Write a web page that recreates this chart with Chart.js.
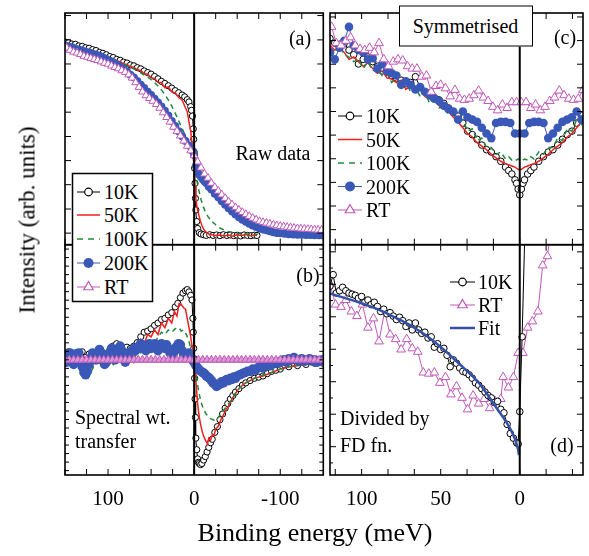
<!DOCTYPE html>
<html><head><meta charset="utf-8">
<script src="https://cdn.jsdelivr.net/npm/chart.js@4/dist/chart.umd.min.js"></script>
<style>
html,body{margin:0;padding:0;background:#fff;}
#wrap{position:relative;width:589px;height:556px;overflow:hidden;font-family:"Liberation Serif","Tinos","DejaVu Serif","Noto Serif",serif;color:#000;}
canvas{position:absolute;left:0;top:0;}
svg{position:absolute;left:0;top:0;}
.t{position:absolute;white-space:nowrap;line-height:1;font-size:20px;}
.c{transform:translate(-50%,-50%);}
.l{transform:translate(0,-50%);}
</style></head>
<body><div id="wrap">
<canvas id="ca" width="589" height="556"></canvas>
<canvas id="cb" width="589" height="556"></canvas>
<canvas id="cc" width="589" height="556"></canvas>
<canvas id="cd" width="589" height="556"></canvas>
<svg id="lg" width="589" height="556"></svg>
<div id="txt"></div>
</div>
<script>
// ---------- series names ----------
const seriesNames = ['10K','50K','100K','200K','RT'];

// ---------- Panel (a): raw data ----------
const E_a_10K = [150,146,142,138,134,130,126,122,118,114,110,106,102,98,94,90,86,82,78,74,70,66,62,58,54,50,46,42,38,34,30,26,22,18,14,11,8,6,4,3,2,1,0.5,0,-0.5,-1,-1.5,-2,-3,-4,-6,-8,-11,-14,-18,-22,-26,-30,-34,-38,-42,-46,-50,-54,-58,-62,-66,-70,-73];
const I_a_10K = [87.5,87.2,86.6,86.5,85.8,85.6,85.0,84.8,84.2,83.8,83.0,82.6,82.0,81.2,80.8,80.0,79.6,78.8,78.4,77.6,77.2,76.4,75.9,75.0,74.3,73.6,72.6,71.6,70.5,69.6,68.6,67.6,66.5,65.6,64.6,63.8,62.6,61.6,59.6,58,55.5,50,45.5,40,33,26.5,20,15,10,7,5.2,4.6,4.3,4.0,4.3,4.0,4.2,3.9,4.3,4.0,4.2,3.9,4.1,3.8,4.2,4.0,3.9,4.1,4.0];
const E_a_50K = [150,146,142,138,134,130,126,122,118,114,110,106,102,98,94,90,86,82,78,74,70,66,62,58,54,50,46,42,38,34,30,26,22,18,14,10,8,6,4,3,2,1,0,-1,-2,-3,-4,-5,-7,-9,-11,-14,-17,-20,-25,-30,-35,-40,-45,-50,-55,-60,-65,-70,-73];
const I_a_50K = [87,86.8,86.2,86,85.3,85,84.5,84.2,83.6,83.2,82.4,82,81.4,80.6,80.2,79.4,79,78,77.8,76.8,76.6,75.5,75.2,73.8,73.6,72,71.8,70,70,67.8,68,66,65.5,63.5,62.5,59,57.5,53,49,45.5,42,37.5,32,25,20,17,15,13.5,10.5,8.3,6.7,5.3,4.6,4.3,4.0,4.2,3.8,4.2,3.7,4.3,4.0,4.4,3.9,4.2,4.0];
const E_a_100K = [150,146,142,138,134,130,126,122,118,114,110,106,102,98,94,90,86,82,78,74,70,66,62,58,54,50,46,42,38,34,30,26,22,18,14,10,7,4,2,0,-2,-4,-6,-8,-10,-13,-16,-20,-25,-30,-35,-40,-45,-50,-55,-60,-65,-70,-74];
const I_a_100K = [87,86.5,86,85.7,85.2,84.8,84.3,84,83.4,83,82.3,81.8,81.2,80.5,80,79.2,78.7,77.8,77.3,76.4,75.9,75,74.2,73.2,72.4,71.2,70,68.5,66.8,64.8,62.5,59.8,56.8,53.5,50.2,46.8,44,41,38.5,35,30,26,22.5,19.5,17,14.2,12.2,10.2,8.6,7.2,6.3,5.6,5.2,4.9,4.7,4.6,4.6,4.5,4.5];
const E_a_200K = [150,146,142,138,134,130,126,122,118,114,110,106,102,98,94,90,86,82,78,74,70,66,62,58,54,50,46,42,38,34,30,26,22,18,14,10,6,2,0,-2,-4,-6,-8,-10,-12,-14,-17,-20,-24,-28,-32,-36,-40,-44,-48,-52,-56,-60,-64,-68,-72,-76,-80,-84,-88,-92,-96,-100,-105,-110,-115,-120,-125,-130,-135,-140,-145,-150];
const I_a_200K = [86,85.5,85.2,84.5,84.2,83.8,83.2,83,82.4,82,81.6,80.8,80.2,79.4,78.6,77.8,76.8,75.8,74.8,73.4,72.2,70.6,69,67.6,66,64.6,63,61.4,59.6,57.8,55.8,53.4,51.2,49,46.8,44.8,42.8,40.5,38.8,34,31.5,30.2,29.2,28.2,27.4,26.6,25,23.8,22,20.5,18.8,17.2,15.7,14.3,13,11.8,10.8,9.9,9,8.3,7.6,7,6.6,6.2,5.8,5.4,5.1,4.9,4.7,4.5,4.4,4.3,4.3,4.2,4.2,4.1,4.1,4];
const E_a_RT = [148,144,140,136,132,128,124,120,116,112,108,104,100,96,92,88,84,80,76,72,68,64,60,56,52,48,44,40,36,32,28,24,20,16,12,8,4,0,-4,-8,-12,-16,-20,-24,-28,-32,-36,-40,-44,-48,-52,-56,-60,-64,-68,-72,-76,-80,-84,-88,-92,-96,-100,-104,-108,-112,-116,-120,-124,-128,-132,-136,-140,-144,-148];
const I_a_RT = [85,84,83.2,82.8,82.2,81.4,81,80.5,80,79.6,79,78.4,78,77.2,76.6,76,75.2,74.5,73.4,72,70,68,66,64.4,63.2,62,60.6,59,57,55,53,50.8,49,47,44.8,42.6,40.6,38.5,35.8,33.2,30.6,28.8,26.6,24.8,23.2,21.6,20.1,18.6,17.3,16.1,15,14,13.1,12.3,11.5,10.8,10.1,9.7,9.4,9.0,8.6,8.3,8.0,7.8,7.6,7.4,7.2,7.0,6.9,6.8,6.7,6.6,6.5,6.4,6.3];

// ---------- Panel (b): spectral weight transfer ----------
const E_b_10K = [150,146,142,138,134,130,126,122,118,114,110,106,102,98,94,90,86,82,78,74,70,66,62,58,54,50,46,42,38,34,30,26,22,19,16,13,10,8,6,4,2.5,1.5,1,0.5,0,-0.5,-1,-1.5,-2,-3,-4,-5,-6,-7.5,-9,-11,-13,-15,-17,-19,-21,-24,-27,-30,-33,-36,-39,-42,-45,-48,-52,-56,-60,-65,-70,-75,-80,-85,-90,-95,-100,-110,-120,-130,-140,-150];
const V_b_10K = [2,3.5,1.5,3,2,3.5,1,2.5,1.5,3,2,3,2.5,4,6,7,5.5,4.5,5.5,5,6,7.5,10,12,12.5,13.5,15,16,17.5,18,19.5,20.5,23,24.5,27,29,30,30.5,29.5,28,26,18,12,5,0.5,-8,-17,-25,-34,-39,-43,-44.5,-45,-45.5,-45,-43.5,-42,-40,-38,-36,-34.5,-31.5,-29,-26,-23.5,-21,-19,-17,-15.5,-14,-12.5,-11,-10,-9,-8,-7.5,-7,-6,-5,-4.5,-4,-3,-2.5,-2,-1.5,-1.5];
const E_b_50K = [150,146,142,138,134,130,126,122,118,114,110,106,102,98,94,90,86,82,78,74,70,66,62,58,54,50,46,42,38,34,30,26,23,20,17.5,15,12,10,8,6,4,2,0,-1,-2,-3,-4,-6,-8,-10,-12,-14,-15.5,-17,-19,-21,-23,-25,-28,-31,-34,-37,-40,-44,-48,-52,-56,-60,-65,-70,-75,-80,-90,-100,-110,-120,-130,-140,-150];
const V_b_50K = [1,3,0,2.5,-1,2,0.5,-2,1,2,0,3,0.5,2,4,2,5,3,1,5,2,6,9,7,11,10,13,11,16,14,18,16,21,19,24.5,24,22.5,22,18,14,10,5,0,-5,-9,-14,-19,-25,-29,-32,-34,-35.5,-36.5,-34,-35,-32.5,-33,-30,-29,-26,-24,-21.5,-20,-17,-14.5,-12.5,-11,-10,-9,-8,-7.5,-7,-5.5,-4,-3,-2.5,-2,-1.5,-1.5];
const E_b_100K = [150,146,142,138,134,130,126,122,118,114,110,106,102,98,94,90,86,82,78,74,70,66,62,58,54,50,46,42,38,34,30,26,22,18,15,12,9,6,4,2,0,-2,-4,-6,-8,-10,-13,-16,-19,-22,-25,-28,-31,-34,-37,-40,-44,-48,-52,-56,-60,-65,-70,-75,-80,-90,-100,-110,-120,-130,-140,-150];
const V_b_100K = [-1,1,-3,0,-2,-5,-3,-1,-4,0,-2,1,-3,0,-2,2,-1,1,0,3,-1,4,3,6,5,8,7,10,12,11,13,12,13.5,14,12.5,13,11,8,5,2,-1,-6,-11,-15,-18.5,-20.5,-23,-24.5,-25.5,-26,-26.5,-25,-23.5,-22,-20.5,-19,-17,-14.5,-12.5,-11,-10,-9,-8,-7.5,-6.5,-5.5,-4,-3,-2.5,-2,-1.5,-1.5];
const E_b_200K = [150,148,146,144,142,140,138,136,134,132,130,128,126,124,122,120,118,116,114,112,110,108,106,104,102,100,98,96,94,92,90,88,86,84,82,80,78,76,74,72,70,68,66,64,62,60,58,56,54,52,50,48,46,44,42,40,38,36,34,32,30,28,26,24,22,20,18,16,14,12,10,8,6,4,2,0,-2,-4,-6,-8,-10,-12,-14,-16,-18,-20,-22,-24,-26,-28,-30,-32,-34,-36,-38,-40,-42,-44,-46,-48,-50,-53,-56,-59,-62,-65,-68,-71,-74,-77,-80,-83,-86,-89,-92,-95,-98,-101,-104,-107,-110,-113,-116,-119,-122,-125,-128,-131,-134,-137,-140,-143,-146,-149];
const V_b_200K = [0,-1,1,3,1,-2,0,2,3,0,-3,-5.5,-6.5,-5,-2,1,3,2,0,3,4.5,3,0,-2,-1,1,3,5,3,0,2,5,6,4,1,-1,1,3,2,4,5,4,5,6,7,6,5,4,6,7,5,6,7,5,4,6,7,6,5,6.5,5,3,2,3,5,6,7,6.5,4,2,1,2,3,1,0,-1,-2.5,-3.5,-4.5,-5,-5.5,-6,-7,-7.5,-8,-9,-10,-10.5,-11.5,-11,-10.5,-9.5,-10,-9,-8.5,-9,-8,-8.5,-7.5,-8,-7,-6.5,-6,-5.5,-5,-5,-4,-4.5,-3.5,-3,-3.5,-2.5,-2,-2.5,-1.5,-1,-1.5,-0.5,0,-1,0.5,0,1,0,-0.5,0.5,-0.5,0,0.5,-0.5,0,-1,-0.5,0];
const E_b_RT = [150,145,140,135,130,125,120,115,110,105,100,95,90,85,80,75,70,65,60,55,50,45,40,35,30,25,20,15,10,5,0,-5,-10,-15,-20,-25,-30,-35,-40,-45,-50,-55,-60,-65,-70,-75,-80,-85,-90,-95,-100,-105,-110,-115,-120,-125,-130,-135,-140,-145,-150];
const V_b_RT = [0,0,0,0,0,0,0,0,0,0,0,0,0,0,0,0,0,0,0,0,0,0,0,0,0,0,0,0,0,0,0,0,0,0,0,0,0,0,0,0,0,0,0,0,0,0,0,0,0,0,0,0,0,0,0,0,0,0,0,0,0];

// ---------- Panel (c): symmetrised ----------
const E_c_10K = [120,117,114,111,108,105,102,99,96,93,90,87,84,81,78,75,72,69,66,63,60,57,54,51,48,45,42,39,36,33,30,27,24,21,18,15,12,9,7,5,3,2,1,0,-1,-2,-3,-5,-7,-9,-12,-15,-18,-21,-24,-27,-30,-33,-36,-39,-40];
const I_c_10K = [89,87,86.5,87,84,82,78,80,81,79,77,75,74.5,73,72,71,69.5,70,72.5,68,66,65.5,63.5,62.5,61,59,57,55.5,52.5,49,47.5,45.5,43,41,40,38,36,33.5,32,30.5,28,26.5,24,21.5,24,26.5,28,30.5,32,33.5,36,38,40,41,43,45.5,47.5,49,52.5,55.5,56];
const I_c_50K = [86,84,85,83,80,81,79,77,78.5,76,74,75,72,71.5,70,71,67,68.5,66,67,64,63,62,60,58.5,57.5,55,53,50.5,48,46.5,44,42.5,41,39,37.5,36,35,34.5,34,33.5,33,32.5,32.5,32.5,33,33.5,34,34.5,35,36,37.5,39,41,42.5,44,46.5,48,50.5,53,54];
const I_c_100K = [85,83,86,82,81,79,80,76,79,75,76,73,74,70,72,69,70,66,68,64,66,61,64,59,60,56,57,52,54,49,50,45,46,42,42,39,40,37,38,36.5,37,36.5,37,36.5,37,36.5,37,36.5,38,37,40,39,42,42,46,45,50,49,54,52,55];
const E_c_200K = [120,117,114,111,108,105,102,99,96,93,90,87,84,81,78,75,72,69,66,63,60,57,54,51,48,45,42,39,36,33,30,27,24,21,18,15,12,9,6,3,0,-3,-6,-9,-12,-15,-18,-21,-24,-27,-30,-33,-36,-39];
const I_c_200K = [83,80,85,88,94,86,84,83,80,80.5,76,78,75,74,73,69,70.5,69,67,68,66,64.5,63,62,60,58.5,57.5,54,57.5,55,54,53,50.5,48,46,52.5,53,53,52.5,48,48,48,52.5,53,53,52.5,46,48,50.5,53,54,55,57.5,54];
const E_c_RT = [119,116,113,110,107,104,101,98,95,92,89,86,83,80,77,74,71,68,65,62,59,56,53,50,47,44,41,38,35,32,29,26,23,20,17,14,11,8,5,2,-1,-4,-7,-10,-13,-16,-19,-22,-25,-28,-31,-34,-37,-40];
const I_c_RT = [94,87,86,88,89.5,86,84.5,84,85,83,87,80,77,79,80,79.5,77,76,76,72.5,73,66,68.5,69,67.5,64,66.8,63,62.5,63,64.5,66.5,63.5,62,59.5,58,60.5,59,61.5,61.5,61.5,61.5,59,60.5,58,59.5,62,63.5,66.5,64.5,63,62.5,63,66.8];

// ---------- Panel (d): divided by Fermi-Dirac ----------
const E_d_10K = [120,118,116,114,112,110,108,106,104,102,100,98,96,94,92,90,88,86,84,82,80,78,76,74,72,70,68,66,64,62,60,58,56,54,52,50,48,46,44,42,40,38,36,34,32,30,28,26,24,22,20,18,16,14,12,10,8,6,4,2,1,0,-1.5,-3.2];
const I_d_10K = [82,87,79,80,81.5,80,79,78.5,78,76.8,77.5,75,76,74,75,73.2,71,72,70,70.5,69,67.5,68.5,67,64.5,66,63,66,63,61.5,62,59.5,60,55.5,57,54.5,55,52,47,50,48.5,46.5,45,44.5,43.5,42,40,39,37.5,36,34.5,33.5,31.5,32,28.5,27,22,18,16,14,13.5,27.5,60,105];
const E_d_RT = [120,116.5,113,110,106.5,103,99.5,96,92.5,89,85.5,82,78.5,75,71.5,68,64.5,61,57.5,54,50.5,47,43.5,40,36.5,33,29.5,26,22.5,19,15.5,12,10.5,7.2,4,1,-2,-5,-8,-11.5,-14.5,-17.5,-20];
const I_d_RT = [83,74,73,76,71,69,74,64,68,58,71,61,59,54.5,59,55,53.5,44.5,44,44.5,40,42.5,35,38.5,33.5,28.5,34.5,31,33,29,32,33,42.5,38,42.5,53,53,64,66.7,71,91,95,108];
const E_d_Fit = [121,115,110,105,100,95,90,85,80,75,70,65,60,55,50,45,40,35,30,25,20,15,12,10,8,6,5,4,3,2,1.5,1,0.5];
const I_d_Fit = [79,77.8,76.7,75.7,74.6,73.3,72,70.5,68.8,67.1,65.3,63.2,61,58.4,55.6,52.6,49.4,46.2,43,39.3,34.5,29.4,26.5,24.5,22.4,20,18.7,17.2,15.6,13.6,12.4,10.9,8.7];

// ---------- ticks and labels ----------
const xTicksL = [150,125,100,75,50,25,0,-25,-50,-75,-100,-125,-150];
const xTicksR = [116.67,100,83.33,66.67,50,33.33,16.67,0,-16.67,-33.33];
const xLabelsL = [100,0,-100];
const xLabelsR = [100,50,0];
const yTicksA = [5,15.4,25.9,36.3,46.7,57.2,67.6,78,88.4,98.9];
const yTicksB = [-48.1,-44.4,-40.7,-37,-33.3,-29.6,-25.9,-22.2,-18.5,-14.8,-11.1,-7.4,-3.7,0,3.7,7.4,11.1,14.8,18.5,22.2,25.9,29.6,33.3,37,40.7,44.4,48.1];
const yTicksC = [6.5,16.7,26.9,37.1,47.3,57.5,67.7,77.9,88.1,98.3];
const yTicksD = [12.3,26.4,40.5,54.6,68.7,82.8,96.9];
const yMinorD = [5.25,19.35,33.45,47.55,61.65,75.75,89.85];

// ---------- helpers ----------
const pairs = [[E_a_10K,I_a_10K,'a10'],[E_a_50K,I_a_50K,'a50'],[E_a_100K,I_a_100K,'a100'],[E_a_200K,I_a_200K,'a200'],[E_a_RT,I_a_RT,'aRT'],
 [E_b_10K,V_b_10K,'b10'],[E_b_50K,V_b_50K,'b50'],[E_b_100K,V_b_100K,'b100'],[E_b_200K,V_b_200K,'b200'],[E_b_RT,V_b_RT,'bRT'],
 [E_c_10K,I_c_10K,'c10'],[E_c_10K,I_c_50K,'c50'],[E_c_10K,I_c_100K,'c100'],[E_c_200K,I_c_200K,'c200'],[E_c_RT,I_c_RT,'cRT'],
 [E_d_10K,I_d_10K,'d10'],[E_d_RT,I_d_RT,'dRT'],[E_d_Fit,I_d_Fit,'dFit']];
pairs.forEach(([e,v,n]) => { if (e.length !== v.length) throw new Error('length mismatch '+n+' '+e.length+' '+v.length); });

const W = 589, H = 556;
const COL = {k:'#000000', r:'#ee2020', g:'#1f8a3a', b:'#3a58b8', p:'#c058b8', fit:'#3450a8'};
const FONT = '"Liberation Serif","Tinos","DejaVu Serif","Noto Serif",serif';
Chart.defaults.font.family = FONT;

function pts(E, V) { return E.map((e, i) => ({x: e, y: V[i]})); }
const S10 = {borderColor:COL.k, borderWidth:1, pointStyle:'circle', pointRadius:3.3, pointBorderWidth:1, pointBorderColor:COL.k, pointBackgroundColor:'#fff', order:4};
const S50 = {borderColor:COL.r, borderWidth:1.5, pointRadius:0, order:3};
const S100 = {borderColor:COL.g, borderWidth:1.5, borderDash:[5,4], pointRadius:0, order:2};
const S200 = {borderColor:COL.b, borderWidth:1, pointStyle:'circle', pointRadius:4.3, pointBorderWidth:0, pointBackgroundColor:COL.b, order:1};
const SRT = {borderColor:COL.p, borderWidth:1, pointStyle:'triangle', pointRadius:5, pointBorderWidth:1, pointBorderColor:COL.p, pointBackgroundColor:'#fff', order:0};
function ds(label, E, V, style, extra) {
  return Object.assign({label, data: pts(E, V), clip: 0, tension: 0, fill: false}, style, extra || {});
}

const framePlugin = {
  id: 'frame',
  afterDatasetsDraw(chart, args, o) {
    const ctx = chart.ctx, a = chart.chartArea, xs = chart.scales.x, ys = chart.scales.y;
    ctx.save();
    ctx.strokeStyle = '#000';
    ctx.lineWidth = 2;
    const x0 = xs.getPixelForValue(0);
    ctx.beginPath(); ctx.moveTo(x0, a.top); ctx.lineTo(x0, a.bottom); ctx.stroke();
    ctx.lineWidth = 1;
    ctx.beginPath();
    o.xTicks.forEach(v => { const p = xs.getPixelForValue(v);
      ctx.moveTo(p, a.bottom); ctx.lineTo(p, a.bottom - 6); ctx.moveTo(p, a.top); ctx.lineTo(p, a.top + 6); });
    o.yTicks.forEach(v => { const p = ys.getPixelForValue(v);
      ctx.moveTo(a.left, p); ctx.lineTo(a.left + o.yLen, p); ctx.moveTo(a.right, p); ctx.lineTo(a.right - o.yLen, p); });
    (o.yMinor || []).forEach(v => { const p = ys.getPixelForValue(v);
      ctx.moveTo(a.left, p); ctx.lineTo(a.left + 3, p); ctx.moveTo(a.right, p); ctx.lineTo(a.right - 3, p); });
    ctx.stroke();
    ctx.lineWidth = 1.6;
    ctx.strokeRect(a.left, a.top, a.right - a.left, a.bottom - a.top);
    if (o.xLabels) {
      ctx.fillStyle = '#000'; ctx.font = '21px ' + FONT; ctx.textAlign = 'center'; ctx.textBaseline = 'middle';
      o.xLabels.forEach(v => ctx.fillText(String(v), xs.getPixelForValue(v), 499));
    }
    ctx.restore();
  }
};

function makeChart(id, area, xr, yr, datasets, frame) {
  return new Chart(document.getElementById(id), {
    type: 'line',
    data: { datasets },
    options: {
      responsive: false, animation: false, events: [],
      layout: { padding: { left: area[0], top: area[1], right: W - area[2], bottom: H - area[3] } },
      scales: {
        x: { type: 'linear', min: xr[0], max: xr[1], reverse: true, display: false },
        y: { type: 'linear', min: yr[0], max: yr[1], display: false }
      },
      plugins: { legend: { display: false }, tooltip: { enabled: false }, frame }
    },
    plugins: [framePlugin]
  });
}

const AREA_A = [65, 13, 323.3, 244.7], AREA_B = [65, 244.7, 323.3, 475];
const AREA_C = [330, 13, 588, 244.7], AREA_D = [330, 244.7, 588, 475];

makeChart('ca', AREA_A, [-150, 150], [0, 100], [
  ds(seriesNames[0], E_a_10K, I_a_10K, S10, {pointRadius:3.1}),
  ds(seriesNames[1], E_a_50K, I_a_50K, S50),
  ds(seriesNames[2], E_a_100K, I_a_100K, S100),
  ds(seriesNames[3], E_a_200K, I_a_200K, S200, {pointRadius:4}),
  ds(seriesNames[4], E_a_RT, I_a_RT, SRT, {pointRadius:4.5})
], {xTicks: xTicksL, yTicks: yTicksA, yLen: 6});

makeChart('cb', AREA_B, [-150, 150], [-50, 50], [
  ds(seriesNames[0], E_b_10K, V_b_10K, S10, {pointRadius:3.1}),
  ds(seriesNames[1], E_b_50K, V_b_50K, S50),
  ds(seriesNames[2], E_b_100K, V_b_100K, S100),
  ds(seriesNames[3], E_b_200K, V_b_200K, S200, {pointRadius:4.8}),
  ds(seriesNames[4], E_b_RT, V_b_RT, SRT, {pointRadius:4.6, borderWidth:3, pointBackgroundColor:'#dc98d6'})
], {xTicks: xTicksL, yTicks: yTicksB, yLen: 4, xLabels: xLabelsL});

makeChart('cc', AREA_C, [-40, 120], [0, 100], [
  ds(seriesNames[0], E_c_10K, I_c_10K, S10),
  ds(seriesNames[1], E_c_10K, I_c_50K, S50),
  ds(seriesNames[2], E_c_10K, I_c_100K, S100),
  ds(seriesNames[3], E_c_200K, I_c_200K, S200),
  ds(seriesNames[4], E_c_RT, I_c_RT, SRT)
], {xTicks: xTicksR, yTicks: yTicksC, yLen: 6});

makeChart('cd', AREA_D, [-40, 120], [0, 100], [
  ds(seriesNames[0], E_d_10K, I_d_10K, S10, {order:1}),
  ds(seriesNames[4], E_d_RT, I_d_RT, SRT, {order:2}),
  ds('Fit', E_d_Fit, I_d_Fit, {borderColor:COL.fit, borderWidth:2.5, pointRadius:0, order:0})
], {xTicks: xTicksR, yTicks: yTicksD, yMinor: yMinorD, yLen: 6, xLabels: xLabelsR});

// ---------- legends (symbols in SVG, text as HTML) ----------
const svg = document.getElementById('lg');
const txt = document.getElementById('txt');
const NS = 'http://www.w3.org/2000/svg';
function el(tag, attrs) { const e = document.createElementNS(NS, tag); for (const k in attrs) e.setAttribute(k, attrs[k]); svg.appendChild(e); return e; }
function text(str, x, y, cls, extra) {
  const d = document.createElement('div'); d.className = 't ' + cls; d.textContent = str;
  d.style.left = x + 'px'; d.style.top = y + 'px';
  if (extra) Object.assign(d.style, extra);
  txt.appendChild(d); return d;
}
function symbol(kind, x1, x2, y) {
  const xm = (x1 + x2) / 2;
  if (kind === 0) { el('line', {x1, x2, y1:y, y2:y, stroke:COL.k, 'stroke-width':1}); el('circle', {cx:xm, cy:y, r:3.8, fill:'#fff', stroke:COL.k, 'stroke-width':1.2}); }
  if (kind === 1) { el('line', {x1, x2, y1:y, y2:y, stroke:COL.r, 'stroke-width':1.5}); }
  if (kind === 2) { el('line', {x1, x2, y1:y, y2:y, stroke:COL.g, 'stroke-width':1.5, 'stroke-dasharray':'6 5'}); }
  if (kind === 3) { el('line', {x1, x2, y1:y, y2:y, stroke:COL.b, 'stroke-width':1}); el('circle', {cx:xm, cy:y, r:5, fill:COL.b}); }
  if (kind === 4) { el('line', {x1, x2, y1:y, y2:y, stroke:COL.p, 'stroke-width':1});
    const r = 5.5; el('polygon', {points: `${xm},${y-r} ${xm+r*0.866},${y+r/2} ${xm-r*0.866},${y+r/2}`, fill:'#fff', stroke:COL.p, 'stroke-width':1.2}); }
  if (kind === 5) { el('line', {x1, x2, y1:y, y2:y, stroke:COL.fit, 'stroke-width':2.5}); }
}
// legend box of (a)/(b)
el('rect', {x:72.5, y:173.5, width:80, height:128, fill:'#fff', stroke:'#000', 'stroke-width':1.5});
const rowsA = [192, 215, 239, 263, 287];
rowsA.forEach((y, i) => { symbol(i, 77, 100, y); text(seriesNames[i], 104, y, 'l'); });
// legend of (c)
const rowsC = [116, 139.5, 163, 186.5, 210];
rowsC.forEach((y, i) => { symbol(i, 338, 362, y); text(seriesNames[i], 366, y, 'l'); });
// legend of (d)
symbol(0, 450, 475, 282); text(seriesNames[0], 478, 282, 'l');
symbol(4, 450, 475, 305); text(seriesNames[4], 478, 305, 'l');
symbol(5, 450, 475, 328); text('Fit', 478, 328, 'l');

// panel annotations
text('(a)', 300, 38, 'c');
text('(b)', 308, 275, 'c');
text('(c)', 565, 37, 'c');
text('(d)', 562, 445, 'c');
text('Raw data', 273, 153, 'c');
text('Spectral wt.', 75, 417, 'l');
text('transfer', 75, 441, 'l');
text('Divided by', 340, 418, 'l');
text('FD fn.', 340, 445, 'l');
text('Symmetrised', 465.5, 26, 'c', {background:'#fff', border:'1.5px solid #000', width:'132px', height:'39px', lineHeight:'39px', textAlign:'center'});
text('Binding energy (meV)', 315, 533, 'c', {fontSize:'26px'});
text('Intensity (arb. units)', 27, 220, 'c', {fontSize:'23px', transform:'translate(-50%,-50%) rotate(-90deg)'});
</script>
</body></html>
